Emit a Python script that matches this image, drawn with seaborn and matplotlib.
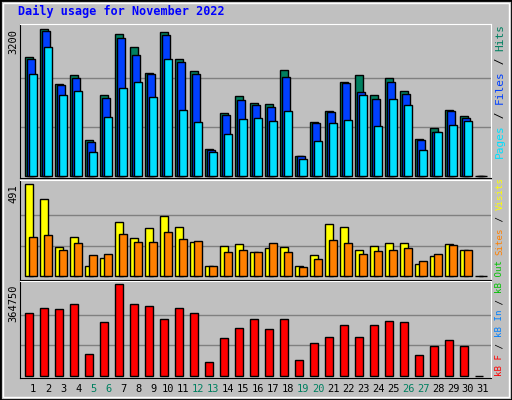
import numpy as np
import pandas as pd
import seaborn as sns
import matplotlib.pyplot as plt

days = list(range(1, 32))
hits = [2589, 3200, 2000, 2196, 778, 1760, 3091, 2807, 2240, 3135, 2545, 2284, 582, 1367, 1738,
        1585, 1564, 2305, 429, 1171, 1418, 2051, 2196, 1760, 2131, 1855, 807, 1040, 1440, 1302, 0]
files = [2545, 3156, 1978, 2131, 735, 1695, 3004, 2633, 2218, 3069, 2480, 2218, 560, 1324, 1651,
         1542, 1498, 2153, 429, 1149, 1389, 2022, 1825, 1673, 2044, 1782, 785, 953, 1411, 1258, 0]
pages = [2218, 2807, 1760, 1847, 516, 1280, 1913, 2044, 1716, 2545, 1433, 1171, 516, 909, 1236,
         1258, 1193, 1411, 364, 756, 1149, 1215, 1760, 1084, 1673, 1542, 560, 953, 1105, 1193, 0]
visits = [491, 411, 155, 208, 53, 96, 288, 203, 256, 320, 262, 181, 53, 160, 171,
          128, 149, 155, 53, 112, 278, 262, 139, 160, 176, 176, 64, 107, 171, 139, 0]
sites = [208, 219, 139, 176, 112, 117, 224, 181, 181, 235, 197, 187, 53, 128, 139,
         128, 176, 128, 48, 91, 192, 176, 117, 133, 139, 149, 80, 117, 165, 139, 0]
kbytes = [248900, 268900, 264900, 284900, 85200, 213000, 364750, 284900, 276900, 225000, 268900,
          248900, 53200, 149100, 189000, 225000, 185000, 225000, 61200, 129100, 153100, 201000,
          153100, 201000, 217000, 213000, 81200, 117100, 141100, 117100, 0]
weekends = [5, 6, 12, 13, 19, 20, 26, 27]

BG = '#c0c0c0'
W, H = 512, 400
fig = plt.figure(figsize=(W / 100, H / 100), dpi=100, facecolor=BG)
mono = 'DejaVu Sans Mono'

# bevelled frame
fig.patches.append(plt.Rectangle((0, 0), 1, 1, transform=fig.transFigure, fill=False,
                                 edgecolor='black', linewidth=2))
fig.patches.append(plt.Rectangle((3 / W, 3 / H), 1 - 6 / W, 1 - 6 / H, transform=fig.transFigure,
                                 fill=False, edgecolor='white', linewidth=1))


def make_ax(top, bottom):
    ax = fig.add_axes([20 / W, 1 - bottom / H, 471 / W, (bottom - top) / H])
    ax.set_facecolor(BG)
    ax.set_xlim(0.269, 0.269 + 471 / 15)
    ax.set_xticks([])
    ax.set_yticks([])
    ax.set_xlabel('')
    ax.set_ylabel('')
    for s in ax.spines.values():
        s.set_color('black')
    ax.spines['top'].set_color('white')
    ax.spines['right'].set_color('white')
    return ax


def bars(ax, vals, offset, width, color):
    df = pd.DataFrame({'x': np.array(days) + offset, 'y': vals})
    sns.barplot(data=df, x='x', y='y', native_scale=True, width=width, color=color,
                edgecolor='black', linewidth=1, saturation=1, ax=ax, zorder=3)


# top: hits / files / pages
ax1 = make_ax(24, 178)
for v in (1067, 2133):
    ax1.axhline(v, color='#808080', lw=1, zorder=1)
bars(ax1, hits, -0.133, 0.49, '#008060')
bars(ax1, files, 0.0, 0.49, '#0040ff')
bars(ax1, pages, 0.133, 0.49, '#00e0ff')
ax1.set_ylim(-44, 3316)
ax1.set_xlim(0.269, 0.269 + 471 / 15)
ax1.set_xlabel(''); ax1.set_ylabel('')

# middle: visits / sites
ax2 = make_ax(180, 280)
for v in (164, 327):
    ax2.axhline(v, color='#808080', lw=1, zorder=1)
bars(ax2, visits, -0.133, 0.55, '#ffff00')
bars(ax2, sites, 0.133, 0.55, '#ff8000')
ax2.set_ylim(-20, 514)
ax2.set_xlim(0.269, 0.269 + 471 / 15)
ax2.set_xlabel(''); ax2.set_ylabel('')

# bottom: kB
ax3 = make_ax(281, 378)
for v in (121600, 243200):
    ax3.axhline(v, color='#808080', lw=1, zorder=1)
bars(ax3, kbytes, -0.133, 0.49, '#ff0000')
ax3.set_ylim(-9180, 377920)
ax3.set_xlim(0.269, 0.269 + 471 / 15)
ax3.set_xlabel(''); ax3.set_ylabel('')

fig.text(18 / W, 1 - 15 / H, 'Daily usage for November 2022', color='#0000ff',
         fontweight='bold', family=mono, fontsize=8.5, va='baseline')

for y, lab in ((29, '3200'), (184, '491'), (284, '364750')):
    fig.text(13 / W, 1 - y / H, lab, rotation=90, ha='center', va='top',
             family=mono, fontsize=7.5)

# day labels
for d in days:
    x = 20 + (d + 0.14 - 0.269) * 15
    fig.text(x / W, 1 - 389 / H, str(d), ha='center', va='center', family=mono, fontsize=7.5,
             color='#008060' if d in weekends else 'black')


def vtext(pieces, bottom_px, size):
    pitch = 0.602 * size * 100 / 72
    y = bottom_px
    for txt, col in pieces:
        fig.text(500 / W, 1 - y / H, txt, rotation=90, ha='center', va='bottom',
                 family=mono, fontsize=size, color=col)
        y -= len(txt) * pitch


vtext([('Pages', '#00e0ff'), (' / ', 'black'), ('Files', '#0040ff'), (' / ', 'black'),
       ('Hits', '#008060')], 158, 8)
vtext([('kB F', '#ff0000'), (' / ', 'black'), ('kB In', '#0080ff'), (' / ', 'black'),
       ('kB Out', '#00c000'), (' ', 'black'), ('Sites', '#ff8000'), (' / ', 'black'),
       ('Visits', '#ffff00')], 376, 6.6)

fig.savefig('out.png', dpi=100, facecolor=BG)
